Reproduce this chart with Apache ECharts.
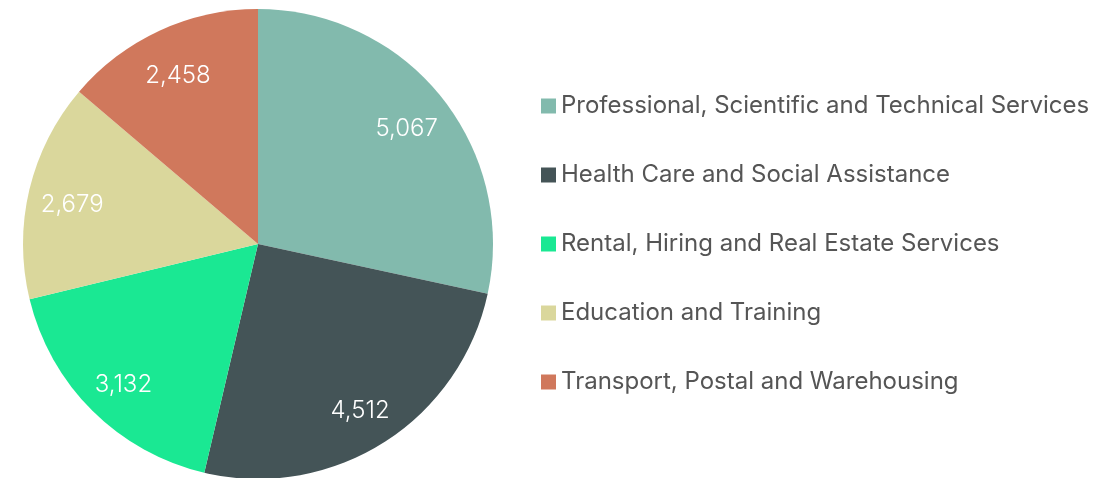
<!DOCTYPE html>
<html>
<head>
<meta charset="utf-8">
<script src="https://cdn.jsdelivr.net/npm/echarts@6/dist/echarts.min.js"></script>
<style>
  html, body { margin: 0; padding: 0; background: #fff; }
  #chart { width: 1115px; height: 478px; }
</style>
</head>
<body>
<div id="chart"></div>
<script>
const categories = [
  "Professional, Scientific and Technical Services",
  "Health Care and Social Assistance",
  "Rental, Hiring and Real Estate Services",
  "Education and Training",
  "Transport, Postal and Warehousing"
];
const values = [5067, 4512, 3132, 2679, 2458];
const colors = ["#82baad", "#445457", "#1ae893", "#dad79c", "#d0785c"];

const fontFamily = "Inter, Roboto, sans-serif";
const center = [258, 244];
const radius = 235;

const pieData = categories.map((name, i) => ({
  name: name,
  value: values[i],
  itemStyle: { color: colors[i] }
}));

const chart = echarts.init(document.getElementById("chart"));
chart.setOption({
  animation: false,
  legend: {
    orient: "vertical",
    left: 536,
    top: 89,
    itemWidth: 15,
    itemHeight: 15,
    itemGap: 45,
    icon: "rect",
    textStyle: { fontFamily: fontFamily, fontSize: 24, color: "#555" },
    data: categories
  },
  series: [
    {
      type: "pie",
      center: center,
      radius: radius,
      startAngle: 90,
      clockwise: true,
      label: { show: false },
      labelLine: { show: false },
      emphasis: { disabled: true },
      data: pieData
    },
    {
      // label-only overlay so the numbers sit further out than the default inner spot
      type: "pie",
      center: center,
      radius: [radius * 0.6, radius],
      startAngle: 90,
      clockwise: true,
      silent: true,
      itemStyle: { color: "rgba(0,0,0,0)" },
      label: {
        show: true,
        position: "inside",
        offset: [0, 5],
        color: "#fff",
        fontFamily: fontFamily,
        fontSize: 24,
        fontWeight: 300,
        formatter: p => p.value.toLocaleString("en-US")
      },
      labelLine: { show: false },
      emphasis: { disabled: true },
      data: categories.map((name, i) => ({ name: name, value: values[i] }))
    }
  ]
});
</script>
</body>
</html>
